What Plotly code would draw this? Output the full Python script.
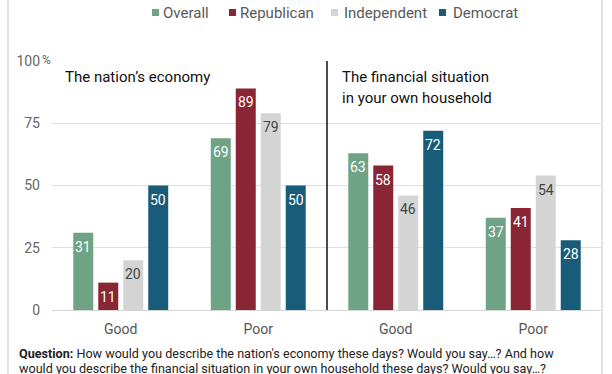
import plotly.graph_objects as go

categories = ["Good", "Poor", "Good", "Poor"]
series_names = ["Overall", "Republican", "Independent", "Democrat"]
overall = [31, 69, 63, 37]
republican = [11, 89, 58, 41]
independent = [20, 79, 46, 54]
democrat = [50, 50, 72, 28]
y_ticks = [0, 25, 50, 75, 100]
panel_titles = ["The nation’s economy", "The financial situation", "in your own household"]
question_lines = [
    "<b>Question:</b> How would you describe the nation's economy these days? Would you say…? And how",
    "would you describe the financial situation in your own household these days? Would you say…?",
]

values = [overall, republican, independent, democrat]
colors = ["#6fa386", "#8a2533", "#d4d4d4", "#195c7a"]
label_colors = ["#ffffff", "#ffffff", "#444444", "#ffffff"]
FONT = "Roboto"

W, H = 612, 374
PLOT_L, PLOT_R, PLOT_T, PLOT_B = 52, 602, 61, 310  # in screen pixels
ML = PLOT_L
MT = PLOT_T
PW = PLOT_R - PLOT_L
PH = PLOT_B - PLOT_T
MR = W - ML - PW
MB = H - MT - PH

def px_x(px):
    return (px - PLOT_L) / PW

def px_y(py):
    return (PLOT_B - py) / PH

xs = list(range(len(categories)))
n = len(series_names)
bargap = 0.273
bargroupgap = 0.2
slot = (1 - bargap) / n

fig = go.Figure()
for i, name in enumerate(series_names):
    fig.add_trace(go.Bar(
        x=xs, y=values[i], name=name, marker=dict(color=colors[i], line=dict(width=0)),
        showlegend=False, hoverinfo="skip",
    ))

annotations = []
shapes = []
# value labels inside bar tops
for i in range(n):
    off = (i - (n - 1) / 2) * slot
    for j, v in enumerate(values[i]):
        annotations.append(dict(
            x=xs[j] + off, y=v, xref="x", yref="y", text=str(v), showarrow=False,
            yanchor="middle", xanchor="center", yshift=-14,
            font=dict(family=FONT, size=14, color=label_colors[i]),
        ))

# divider
shapes.append(dict(type="line", xref="x", yref="y", x0=1.5, x1=1.5, y0=0, y1=100,
                   line=dict(color="#111111", width=1.5)))

# panel titles
annotations.append(dict(x=px_x(63), y=px_y(77), xref="paper", yref="paper", text=panel_titles[0],
                        showarrow=False, xanchor="left", yanchor="middle",
                        font=dict(family=FONT, size=15, color="#111111")))
annotations.append(dict(x=px_x(340), y=px_y(77), xref="paper", yref="paper", text=panel_titles[1],
                        showarrow=False, xanchor="left", yanchor="middle",
                        font=dict(family=FONT, size=15, color="#111111")))
annotations.append(dict(x=px_x(340), y=px_y(98), xref="paper", yref="paper", text=panel_titles[2],
                        showarrow=False, xanchor="left", yanchor="middle",
                        font=dict(family=FONT, size=15, color="#111111")))

# percent sign
annotations.append(dict(x=px_x(40), y=100, xref="paper", yref="y", text="%", showarrow=False,
                        xanchor="left", yanchor="middle", yshift=1,
                        font=dict(family=FONT, size=12, color="#666666")))

# custom legend
leg_sq = [152, 229, 331, 439]
leg_tx = [161, 238, 342, 451]
for i, name in enumerate(series_names):
    shapes.append(dict(type="rect", xref="paper", yref="paper",
                       x0=px_x(leg_sq[i]), x1=px_x(leg_sq[i] + 7),
                       y0=px_y(16), y1=px_y(9), fillcolor=colors[i], line=dict(width=0)))
    annotations.append(dict(x=px_x(leg_tx[i]), y=px_y(12.5), xref="paper", yref="paper", text=name,
                            showarrow=False, xanchor="left", yanchor="middle",
                            font=dict(family=FONT, size=15, color="#595959")))

# question text
annotations.append(dict(x=px_x(17), y=px_y(353.5), xref="paper", yref="paper", text=question_lines[0],
                        showarrow=False, xanchor="left", yanchor="middle",
                        font=dict(family=FONT, size=12.6, color="#222222")))
annotations.append(dict(x=px_x(17), y=px_y(368), xref="paper", yref="paper", text=question_lines[1],
                        showarrow=False, xanchor="left", yanchor="middle",
                        font=dict(family=FONT, size=12.6, color="#222222")))

# container borders
for bx in (8, 602):
    shapes.append(dict(type="line", xref="paper", yref="paper", x0=px_x(bx), x1=px_x(bx),
                       y0=px_y(H), y1=px_y(0), line=dict(color="#e4e4e4", width=2), layer="above"))

fig.update_layout(
    width=W, height=H, margin=dict(l=ML, r=MR, t=MT, b=MB, pad=0),
    paper_bgcolor="white", plot_bgcolor="white",
    barmode="group", bargap=bargap, bargroupgap=bargroupgap,
    font=dict(family=FONT),
    annotations=annotations, shapes=shapes, showlegend=False,
    xaxis=dict(tickmode="array", tickvals=xs, ticktext=categories, range=[-0.5, 3.5],
               showgrid=False, zeroline=False, showline=False, ticks="",
               tickfont=dict(family=FONT, size=14, color="#555555"), ticklabelstandoff=9,
               fixedrange=True),
    yaxis=dict(tickmode="array", tickvals=y_ticks, ticktext=[str(t) for t in y_ticks],
               range=[0, 100], showgrid=True, gridcolor="#e0e0e0", gridwidth=1,
               zeroline=True, zerolinecolor="#d6d6d6", zerolinewidth=1, showline=False, ticks="",
               tickfont=dict(family=FONT, size=14, color="#666666"), ticklabelstandoff=11,
               fixedrange=True),
)

fig.write_html(
    "out.html",
    config={"displayModeBar": False},
    post_script="document.body.style.margin='0';document.body.style.overflow='hidden';",
)
